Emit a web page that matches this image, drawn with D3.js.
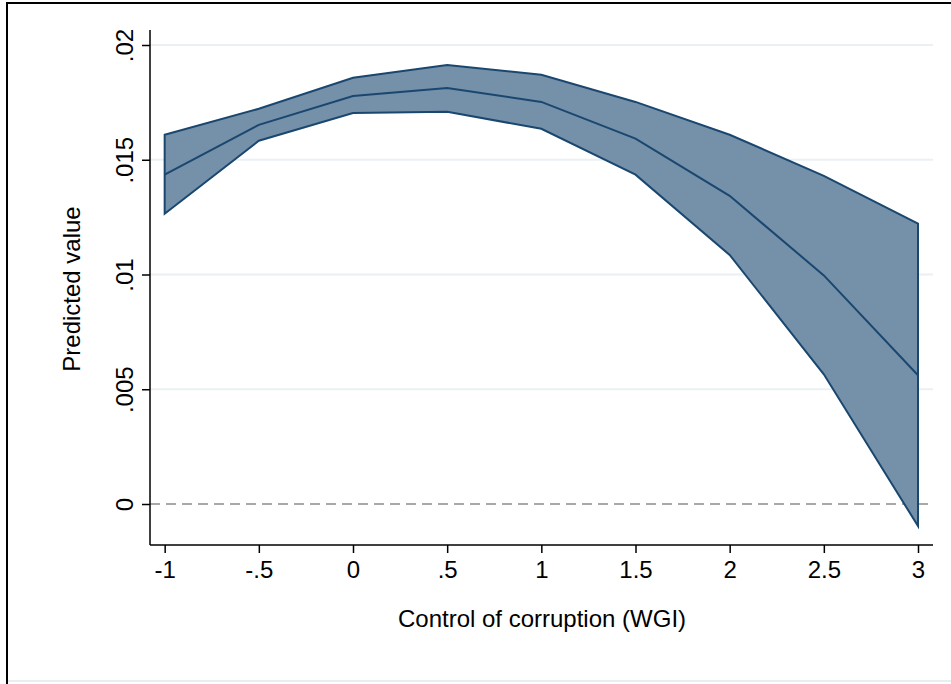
<!DOCTYPE html>
<html>
<head>
<meta charset="utf-8">
<script src="https://cdn.jsdelivr.net/npm/d3@7"></script>
<style>
  body { margin: 0; background: #fff; }
  text { font-family: "Liberation Sans", Arial, sans-serif; fill: #000; }
</style>
</head>
<body>
<div id="chart"></div>
<script>
var width = 951
var height = 684

// values
var xValues = [-1, -0.5, 0, 0.5, 1, 1.5, 2, 2.5, 3]
var upper  = [0.01609, 0.01722, 0.01857, 0.01913, 0.01870, 0.01752, 0.01609, 0.01430, 0.01222]
var middle = [0.01435, 0.01652, 0.01778, 0.01813, 0.01752, 0.01592, 0.01343, 0.00996, 0.00561]
var lower  = [0.01265, 0.01583, 0.01704, 0.01709, 0.01635, 0.01435, 0.01085, 0.00565, -0.00096]
var xTicks = [-1, -0.5, 0, 0.5, 1, 1.5, 2, 2.5, 3]
var xTickLabels = ["-1", "-.5", "0", ".5", "1", "1.5", "2", "2.5", "3"]
var yTicks = [0, 0.005, 0.01, 0.015, 0.02]
var yTickLabels = ["0", ".005", ".01", ".015", ".02"]

var rows = xValues.map((x, i) => ({x: x, lo: lower[i], mid: middle[i], hi: upper[i]}))

var svg = d3.select("#chart")
  .append("svg")
    .attr("width", width)
    .attr("height", height)

// outer frame (cut-off graph border)
svg.append("path")
    .attr("d", "M7,684 V3 H951")
    .attr("fill", "none")
    .attr("stroke", "#000")
    .attr("stroke-width", 2)
svg.append("line")
    .attr("x1", 8).attr("x2", 951).attr("y1", 681).attr("y2", 681)
    .attr("stroke", "#e6eef0").attr("stroke-width", 2)

const plot = {left: 150, right: 933, top: 30, bottom: 545}
const fontSize = 24

const xScale = d3.scaleLinear()
  .domain([0, 3])
  .range([353, 918])

const yScale = d3.scaleLinear()
  .domain([0, 0.02])
  .range([504, 45])

// gridlines
svg.append("g").selectAll("line").data(yTicks.filter(d => d !== 0))
  .enter().append("line")
    .attr("x1", plot.left).attr("x2", plot.right)
    .attr("y1", d => yScale(d)).attr("y2", d => yScale(d))
    .attr("stroke", "#eaf0f3")
    .attr("stroke-width", 2)

// zero reference line
svg.append("line")
    .attr("x1", plot.left).attr("x2", plot.right)
    .attr("y1", yScale(0)).attr("y2", yScale(0))
    .attr("stroke", "#8c8c8c")
    .attr("stroke-width", 1.5)
    .attr("stroke-dasharray", "10,6")

// confidence band
const area = d3.area()
  .x(d => xScale(d.x))
  .y0(d => yScale(d.lo))
  .y1(d => yScale(d.hi))

svg.append("path")
    .datum(rows)
    .attr("d", area)
    .attr("fill", "#7590a9")
    .attr("stroke", "#1a476f")
    .attr("stroke-width", 2)

const line = d3.line()
  .x(d => xScale(d.x))
  .y(d => yScale(d.mid))

svg.append("path")
    .datum(rows)
    .attr("d", line)
    .attr("fill", "none")
    .attr("stroke", "#1a476f")
    .attr("stroke-width", 2)

// axes
const xAxis = d3.axisBottom(xScale)
  .tickValues(xTicks)
  .tickFormat((d, i) => xTickLabels[i])
  .tickSize(8)
  .tickSizeOuter(0)
  .tickPadding(8)

const gx = svg.append("g")
  .attr("transform", `translate(0,${plot.bottom})`)
  .call(xAxis)
gx.select(".domain").remove()
gx.append("line")
  .attr("x1", plot.left).attr("x2", plot.right)
  .attr("stroke", "#000").attr("stroke-width", 1.5)
gx.selectAll(".tick line").attr("stroke", "#000").attr("stroke-width", 1.5)
gx.selectAll(".tick text")
  .attr("font-size", fontSize)
  .attr("fill", "#000")
  .style("font-family", "Liberation Sans, Arial, sans-serif")

const yAxis = d3.axisLeft(yScale)
  .tickValues(yTicks)
  .tickFormat((d, i) => yTickLabels[i])
  .tickSize(8)
  .tickSizeOuter(0)

const gy = svg.append("g")
  .attr("transform", `translate(${plot.left},0)`)
  .call(yAxis)
gy.select(".domain").remove()
gy.append("line")
  .attr("y1", plot.top).attr("y2", plot.bottom)
  .attr("stroke", "#000").attr("stroke-width", 1.5)
gy.selectAll(".tick line").attr("stroke", "#000").attr("stroke-width", 1.5)
gy.selectAll(".tick text")
  .attr("x", 0).attr("dy", null).attr("y", 0)
  .attr("transform", "translate(-17,0) rotate(-90)")
  .attr("text-anchor", "middle")
  .attr("font-size", fontSize)
  .attr("fill", "#000")
  .style("font-family", "Liberation Sans, Arial, sans-serif")

// axis titles
svg.append("text")
    .attr("x", 542)
    .attr("y", 627)
    .attr("text-anchor", "middle")
    .attr("font-size", fontSize)
    .text("Control of corruption (WGI)")

svg.append("text")
    .attr("transform", "translate(80,289) rotate(-90)")
    .attr("text-anchor", "middle")
    .attr("font-size", fontSize)
    .text("Predicted value")
</script>
</body>
</html>
